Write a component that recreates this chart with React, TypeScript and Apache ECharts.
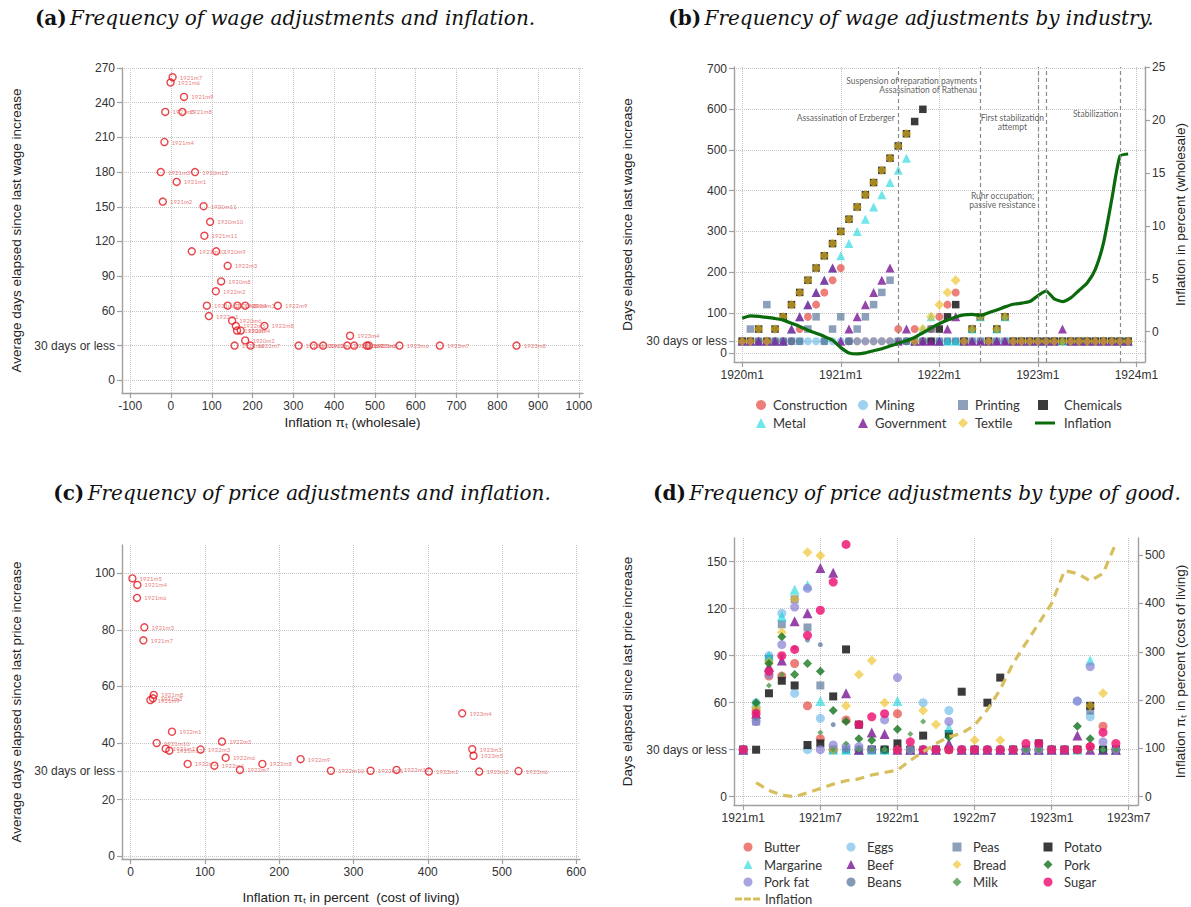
import React, { useEffect, useRef } from 'react';
import * as echarts from 'echarts';

// ---------------- Panel (a): wage adjustments vs wholesale inflation ----------------
const wageLabels = ['1921m7','1921m6','1921m9','1921m5','1921m8','1921m4','1921m3','1920m12','1921m1','1921m2','1920m11','1920m10','1921m11','1921m10','1920m9','1922m3','1920m8','1922m2','1921m12','1920m5','1920m4','1920m3','1922m9','1922m1','1920m6','1922m5','1922m8','1920m7','1922m4','1920m2','1922m6','1922m7','1922m10','1922m11','1922m12','1923m1','1923m2','1923m3','1923m5','1923m6','1923m7','1923m8','1923m4'];
const wageInflation = [4,-1,32,-14,28,-16,-25,59,14,-20,80,96,82,51,111,139,123,110,88,139,163,182,262,93,150,159,229,162,171,182,156,195,313,350,373,432,449,480,485,560,659,847,439];
const wageDays = [262,257.5,245,232,232,206,180,180,171.5,154.5,150.5,137,125,111.5,111.5,99,85.5,77,64.5,64.5,64.5,64.5,64.5,55.5,51.5,47,47,43,43,34.5,30,30,30,30,30,30,30,30,30,30,30,30,38.5];

// ---------------- Panel (c): price adjustments vs cost-of-living inflation ----------------
const priceLabels = ['1921m5','1921m4','1921m6','1921m3','1921m7','1921m8','1921m9','1921m2','1922m1','1921m10','1922m5','1921m11','1921m12','1922m3','1922m6','1922m2','1922m4','1922m7','1922m8','1922m9','1922m10','1922m11','1922m12','1923m1','1923m2','1923m6','1923m4','1923m3','1923m5'];
const priceInflation = [2.3,9,8.5,18.4,17.1,31,26.5,30,55.6,35,122.9,47.1,52.1,94.2,127.9,76.7,112.7,147.1,177.3,228.8,269.6,323,358,401.5,469.3,522.2,446.4,459.9,461.6];
const priceDays = [98.2,95.9,91.3,80.9,76.3,57,55.2,55.8,44,40,40.5,38,37.3,37.7,34.8,32.6,32,30.5,32.6,34.3,30.2,30.2,30.5,29.9,29.9,30.1,50.5,37.8,35.5];

// ---------------- Panel (b): wage adjustments by industry (month 0 = 1920m1) ----------------
const monthsB = [0,1,2,3,4,5,6,7,8,9,10,11,12,13,14,15,16,17,18,19,20,21,22,23,24,25,26,27,28,29,30,31,32,33,34,35,36,37,38,39,40,41,42,43,44,45,46,47];
const constructionDays = [30,30,30,30,30,30,30,60,90,120,150,180,210,30,30,30,30,30,30,60,30,60,30,60,90,120,150,30,60,90,30,60,90,30,30,30,30,30,30,30,30,30,30,30,30,30,30,30];
const miningDays = [30,30,30,30,30,30,30,30,30,30,30,30,30,30,30,30,30,30,30,30,30,30,30,30,30,30,30,30,30,30,30,30,30,30,30,30,30,30,30,30,30,30,30,30,30,30,30,30];
const printingDays = [30,60,30,120,30,30,30,30,60,90,30,60,90,30,60,90,120,150,180,30,30,30,30,60,30,30,30,30,30,30,30,30,30,30,30,30,30,30,30,30,30,30,30,30,30,30,30,30];
const chemicalsDays = [30,30,60,30,60,90,120,150,180,210,240,270,300,330,360,390,420,450,480,510,540,570,600,30,60,90,120,30,60,90,30,60,90,30,30,30,30,30,30,30,30,30,30,30,30,30,30,30];
const metalDays = [30,30,30,30,30,30,60,90,120,150,180,210,240,270,300,330,360,390,420,450,480,30,60,90,30,30,30,30,60,90,30,60,90,30,30,30,30,30,30,30,30,30,30,30,30,30,30,30];
const governmentDays = [30,30,30,30,30,30,60,90,120,150,180,210,30,60,90,120,150,180,210,30,60,30,30,30,30,60,90,30,30,30,30,30,30,30,30,30,30,30,30,60,30,30,30,30,30,30,30,30];
const textileDays = [30,30,60,30,60,90,120,150,180,210,240,270,300,330,360,390,420,450,480,510,540,30,60,90,120,150,180,30,60,90,30,60,90,30,30,30,30,30,30,30,30,30,30,30,30,30,30,30];
const wholesaleInflation = [1.27,1.5,1.45,1.35,1.25,1.1,0.8,0.5,0.15,-0.15,-0.45,-0.8,-1.5,-2.0,-2.1,-2.0,-1.8,-1.6,-1.35,-1.1,-0.85,-0.55,-0.1,0.35,0.75,1.1,1.4,1.6,1.65,1.55,1.8,2.05,2.35,2.6,2.7,2.85,3.4,3.85,3.1,2.85,3.2,3.9,4.6,5.9,8.4,12.5,16.6,16.8];
const eventMonths = [19, 29, 36, 37, 46];
const eventTexts = ['Assassination of Erzberger', 'Suspension of reparation payments\nAssassination of Rathenau', 'Ruhr occupation;\npassive resistance', 'First stabilization\nattempt', 'Stabilization'];
const eventTextMonth = [18.6, 28.6, 31.7, 32.9, 45.8];
const eventTextDays = [578, 658, 376, 568, 588];
const eventTextAlign = ['right', 'right', 'center', 'center', 'right'];

// ---------------- Panel (d): price adjustments by good (month 0 = 1921m1) ----------------
const monthsD = [0,1,2,3,4,5,6,7,8,9,10,11,12,13,14,15,16,17,18,19,20,21,22,23,24,25,26,27,28,29];
const butterDays = [30,55,77,77,85,58,37,30,49,30,30,30,53,30,30,30,30,30,30,30,30,30,30,30,30,30,30,32,45,30];
const eggsDays = [30,60,90,117,66,30,50,30,30,30,30,30,30,30,60,30,55,30,30,30,30,30,30,30,30,30,61,51,30,30];
const peasDays = [30,48,88,110,126,108,71,30,30,30,30,30,30,30,30,30,30,30,30,30,30,30,30,30,30,30,30,55,30,30];
const potatoDays = [30,30,66,74,71,33,34,64,94,46,30,30,34,30,39,30,40,67,30,60,76,30,30,34,30,30,30,58,30,30];
const margarineDays = [30,60,90,115,132,135,61,30,30,30,30,30,61,30,30,30,44,30,30,30,30,30,30,30,30,30,30,87,30,30];
const beefDays = [30,53,83,87,112,117,146,143,66,30,41,40,30,30,30,30,34,30,30,30,30,30,30,30,30,30,39,30,30,30];
const breadDays = [30,57,86,105,126,156,154,30,58,78,87,60,30,30,55,46,30,30,36,30,36,30,30,30,30,30,30,58,66,30];
const porkDays = [30,60,85,102,78,85,80,55,48,37,36,30,43,30,30,30,38,30,30,30,30,30,30,30,30,30,45,37,30,30];
const porkFatDays = [30,48,78,97,121,133,30,33,32,32,30,49,76,30,30,30,48,30,30,30,30,30,30,30,30,30,61,83,35,30];
const beansDays = [30,50,80,90,95,100,97,46,30,30,30,30,30,30,30,30,30,30,30,30,30,30,30,30,30,30,30,30,30,30];
const milkDays = [30,55,71,78,78,85,41,30,34,30,30,30,30,40,48,30,30,30,30,30,30,30,30,30,30,30,30,30,30,30];
const sugarDays = [30,53,80,90,94,103,119,137,161,46,51,53,30,35,30,30,30,30,30,30,30,30,34,34,30,30,30,32,41,34];
const costOfLivingInflation = [null,29,13,3,0,8,17,26,33,37,45,50,55,75,93,110,124,131,148,180,222,276,318,359,400,468,462,447,462,525];

// ---------------- tick label lists ----------------
const aXTicks = [-100,0,100,200,300,400,500,600,700,800,900,1000];
const aYTicks = [0,30,60,90,120,150,180,210,240,270];
const bXTicks = [0,12,24,36,48];
const bYTicks = [0,30,100,200,300,400,500,600,700];
const bRTicks = [0,5,10,15,20,25];
const cXTicks = [0,100,200,300,400,500,600];
const cYTicks = [0,20,30,40,60,80,100];
const dXTicks = [0,6,12,18,24,30];
const dYTicks = [0,30,60,90,120,150];
const dRTicks = [0,100,200,300,400,500];

const SANS = '"Liberation Sans", Arial, sans-serif';
const LATO = 'Lato, "Liberation Sans", sans-serif';
const SERIF = '"DejaVu Serif", serif';

const daysFmt = (v: number) => (v === 30 ? '30 days or less' : String(v));
const plainFmt = (v: number) => String(v);

const SOLID_ICON = 'path://M0,0h20v3h-20z';
const DASH_ICON = 'path://M0,0h7v3h-7zM9,0h7v3h-7zM18,0h7v3h-7z';

function buildOption(): any {
  const AX = '#a0a0a0';
  const axisLine = { show: true, onZero: false, lineStyle: { color: AX, width: 1.4 } };
  const tick = (vals: number[]) => ({ show: true, length: 5, customValues: vals, lineStyle: { color: AX, width: 1.2 } });
  const label = (vals: number[], fmt: any = plainFmt) => ({ customValues: vals, formatter: fmt, fontSize: 12, color: '#333', fontFamily: SANS, margin: 7 });
  const split = { show: true, lineStyle: { type: 'dotted', color: '#c4c4c4', width: 1 } };
  const nameStyle = { fontSize: 13.5, color: '#222', fontFamily: SANS };

  const xAxis = [
    { type: 'value', gridIndex: 0, min: -120, max: 1010, axisLine, axisTick: tick(aXTicks), axisLabel: label(aXTicks), splitLine: split,
      name: 'Inflation πₜ (wholesale)', nameLocation: 'middle', nameGap: 22, nameTextStyle: nameStyle },
    { type: 'value', gridIndex: 1, min: -1, max: 49.05, axisLine, axisTick: tick(bXTicks),
      axisLabel: label(bXTicks, (v: number) => `${1920 + v / 12}m1`), splitLine: split },
    { type: 'value', gridIndex: 2, min: -11.7, max: 605, axisLine, axisTick: tick(cXTicks), axisLabel: label(cXTicks), splitLine: split,
      name: 'Inflation πₜ in percent  (cost of living)', nameLocation: 'middle', nameGap: 31, nameTextStyle: nameStyle },
    { type: 'value', gridIndex: 3, min: -0.72, max: 30.72, axisLine, axisTick: tick(dXTicks),
      axisLabel: label(dXTicks, (v: number) => `${1921 + Math.floor(v / 12)}m${(v % 12) + 1}`), splitLine: split },
  ];
  const yAxis = [
    { type: 'value', gridIndex: 0, min: -11, max: 270, axisLine, axisTick: tick(aYTicks), axisLabel: label(aYTicks, daysFmt), splitLine: split,
      name: 'Average days elapsed since last wage increase', nameLocation: 'middle', nameGap: 99, nameTextStyle: nameStyle },
    { type: 'value', gridIndex: 1, min: -21, max: 704, axisLine, axisTick: tick(bYTicks), axisLabel: label(bYTicks, daysFmt), splitLine: split,
      name: 'Days elapsed since last wage increase', nameLocation: 'middle', nameGap: 100, nameTextStyle: nameStyle },
    { type: 'value', gridIndex: 1, position: 'right', min: -2.86, max: 25.02, axisLine, axisTick: tick(bRTicks), axisLabel: label(bRTicks), splitLine: { show: false },
      name: 'Inflation in percent (wholesale)', nameLocation: 'middle', nameGap: 28, nameTextStyle: nameStyle },
    { type: 'value', gridIndex: 2, min: -1, max: 110, axisLine, axisTick: tick(cYTicks), axisLabel: label(cYTicks, daysFmt), splitLine: split,
      name: 'Average days elapsed since last price increase', nameLocation: 'middle', nameGap: 99, nameTextStyle: nameStyle },
    { type: 'value', gridIndex: 3, min: -5.3, max: 165.1, axisLine, axisTick: tick(dYTicks), axisLabel: label(dYTicks, daysFmt), splitLine: split,
      name: 'Days elapsed since last price increase', nameLocation: 'middle', nameGap: 100, nameTextStyle: nameStyle },
    { type: 'value', gridIndex: 3, position: 'right', min: -17.2, max: 535.6, axisLine, axisTick: tick(dRTicks), axisLabel: label(dRTicks), splitLine: { show: false },
      name: 'Inflation πₜ in percent (cost of living)', nameLocation: 'middle', nameGap: 35, nameTextStyle: nameStyle },
  ];
  const grid = [
    { left: 122, top: 68, width: 461, height: 325 },
    { left: 734, top: 67, width: 411, height: 295 },
    { left: 122, top: 545, width: 458, height: 314 },
    { left: 734, top: 538, width: 404, height: 267 },
  ];

  const redLabel = { show: true, position: 'right', distance: 3, formatter: '{b}', fontSize: 6, color: '#e25a5a', fontFamily: LATO };
  const redItem = { color: 'rgba(0,0,0,0)', borderColor: '#e3141c', borderWidth: 1.4 };

  const series: any[] = [
    { type: 'scatter', name: 'wageA', xAxisIndex: 0, yAxisIndex: 0, symbol: 'circle', symbolSize: 7, itemStyle: redItem, label: redLabel, silent: true,
      data: wageLabels.map((n, i) => ({ name: n, value: [wageInflation[i], wageDays[i]] })) },
    { type: 'scatter', name: 'priceC', xAxisIndex: 2, yAxisIndex: 3, symbol: 'circle', symbolSize: 7, itemStyle: redItem, label: redLabel, silent: true,
      data: priceLabels.map((n, i) => ({ name: n, value: [priceInflation[i], priceDays[i]] })) },
  ];

  const ind = (name: string, arr: number[], symbol: string, size: number, color: string, opacity: number) => ({
    type: 'scatter', name, xAxisIndex: 1, yAxisIndex: 1, symbol, symbolSize: size, silent: true,
    itemStyle: { color, opacity }, data: monthsB.map((m, i) => [m, arr[i]]),
  });
  series.push(
    ind('Construction', constructionDays, 'circle', 8, '#df2a20', 0.6),
    ind('Mining', miningDays, 'circle', 8, '#5fb2e6', 0.6),
    ind('Printing', printingDays, 'rect', 7.5, '#3f618a', 0.6),
    ind('Chemicals', chemicalsDays, 'rect', 7.5, '#262626', 0.9),
    ind('Metal', metalDays, 'triangle', 9, '#10d3dc', 0.6),
    ind('Government', governmentDays, 'triangle', 9, '#82239b', 0.85),
    ind('Textile', textileDays, 'diamond', 10, '#efbc14', 0.6),
    { type: 'line', name: 'Inflation', xAxisIndex: 1, yAxisIndex: 2, symbol: 'none', smooth: 0.2, silent: true,
      lineStyle: { color: '#0b6a0b', width: 3.2 }, itemStyle: { color: '#0b6a0b' },
      data: monthsB.map((m, i) => [m, wholesaleInflation[i]]) },
    { type: 'scatter', name: 'events', xAxisIndex: 1, yAxisIndex: 1, symbolSize: 0, silent: true,
      markLine: { silent: true, symbol: 'none', label: { show: false }, lineStyle: { color: '#8a8a8a', type: [4, 3], width: 1.2 },
        data: eventMonths.map((m) => ({ xAxis: m })) },
      data: eventTexts.map((t, i) => ({
        name: t, value: [eventTextMonth[i], eventTextDays[i]],
        label: { show: true, formatter: '{b}', position: eventTextAlign[i] === 'right' ? 'left' : 'inside', distance: 0,
          align: eventTextAlign[i], fontSize: 8.5, lineHeight: 8.5, color: '#333', fontFamily: LATO },
      })) },
  );

  const good = (name: string, arr: number[], symbol: string, size: number, color: string, opacity: number) => ({
    type: 'scatter', name, xAxisIndex: 3, yAxisIndex: 4, symbol, symbolSize: size, silent: true,
    itemStyle: { color, opacity }, data: monthsD.map((m, i) => [m, arr[i]]),
  });
  series.push(
    good('Butter', butterDays, 'circle', 9, '#df2a20', 0.6),
    good('Eggs', eggsDays, 'circle', 9, '#5fb2e6', 0.6),
    good('Peas', peasDays, 'rect', 8, '#3f618a', 0.6),
    good('Potato', potatoDays, 'rect', 8, '#262626', 0.9),
    good('Margarine', margarineDays, 'triangle', 10, '#10d3dc', 0.6),
    good('Beef', beefDays, 'triangle', 10, '#82239b', 0.85),
    good('Bread', breadDays, 'diamond', 10, '#efbc14', 0.6),
    good('Pork', porkDays, 'diamond', 9, '#1f7a2a', 0.85),
    good('Pork fat', porkFatDays, 'circle', 9, '#8e86d6', 0.75),
    good('Beans', beansDays, 'circle', 5, '#6580a0', 0.8),
    good('Milk', milkDays, 'diamond', 6, '#4f9a4f', 0.8),
    good('Sugar', sugarDays, 'circle', 9, '#ef1875', 0.85),
    { type: 'line', name: 'Inflation (CoL)', xAxisIndex: 3, yAxisIndex: 5, symbol: 'none', silent: true, connectNulls: false,
      lineStyle: { color: '#d8bf5e', width: 3.2, type: [9, 6] }, itemStyle: { color: '#d8bf5e' },
      data: monthsD.map((m, i) => [m, costOfLivingInflation[i]]) },
  );

  const legendText = { fontSize: 13, color: '#333', fontFamily: LATO, lineHeight: 14 };
  const leg = (name: string, left: number, centerY: number, w: number, h: number, padLeft: number, icon?: string, shown?: string) => ({
    show: true, selectedMode: false, orient: 'horizontal', left, top: centerY - 7, padding: 0, itemWidth: w, itemHeight: h,
    data: [icon ? { name, icon } : name], textStyle: { ...legendText, padding: [0, 0, 0, padLeft] },
    ...(shown ? { formatter: () => shown } : {}),
  });
  const legend = [
    leg('Construction', 756, 405, 10, 10, 2), leg('Mining', 858, 405, 10, 10, 2), leg('Printing', 958, 405, 10, 10, 2),
    leg('Chemicals', 1038, 405, 10, 10, 11),
    leg('Metal', 756, 423, 10, 10, 2), leg('Government', 858, 423, 10, 10, 2), leg('Textile', 958, 423, 10, 10, 2),
    leg('Inflation', 1035, 423, 20, 3, 4, SOLID_ICON),
    leg('Butter', 743.5, 847, 9, 9, 6.5), leg('Eggs', 846.5, 847, 9, 9, 6.5), leg('Peas', 952.5, 847, 9, 9, 6.5), leg('Potato', 1043.5, 847, 9, 9, 6.5),
    leg('Margarine', 743.5, 864.5, 9, 9, 6.5), leg('Beef', 846.5, 864.5, 9, 9, 6.5), leg('Bread', 952.5, 864.5, 9, 9, 6.5), leg('Pork', 1043.5, 864.5, 9, 9, 6.5),
    leg('Pork fat', 743.5, 882, 9, 9, 6.5), leg('Beans', 846.5, 882, 9, 9, 6.5), leg('Milk', 952.5, 882, 9, 9, 6.5), leg('Sugar', 1043.5, 882, 9, 9, 6.5),
    leg('Inflation (CoL)', 735, 899, 25, 3, 0, DASH_ICON, 'Inflation'),
  ];

  const titleRich = {
    b: { fill: '#111', fontWeight: 'bold', fontSize: 20, fontFamily: SERIF },
    i: { fill: '#111', fontStyle: 'italic', fontSize: 20, fontFamily: SERIF },
  };
  const title = (x: number, y: number, tag: string, text: string) => ({
    type: 'text', x, y, silent: true,
    style: { text: `{b|${tag}} {i|${text}}`, rich: titleRich, align: 'center', verticalAlign: 'middle' },
  });
  const graphic = [
    title(285, 18, '(a)', 'Frequency of wage adjustments and inflation.'),
    title(911, 18, '(b)', 'Frequency of wage adjustments by industry.'),
    title(302, 493, '(c)', 'Frequency of price adjustments and inflation.'),
    title(917, 493, '(d)', 'Frequency of price adjustments by type of good.'),
  ];

  return { animation: false, backgroundColor: '#fff', grid, xAxis, yAxis, series, legend, graphic };
}

export default function App() {
  const ref = useRef<HTMLDivElement>(null);
  useEffect(() => {
    document.body.style.margin = '0';
    const chart = echarts.init(ref.current as HTMLDivElement, null, { renderer: 'svg' });
    chart.setOption(buildOption());
    return () => chart.dispose();
  }, []);
  return <div ref={ref} style={{ width: 1191, height: 907 }} />;
}
